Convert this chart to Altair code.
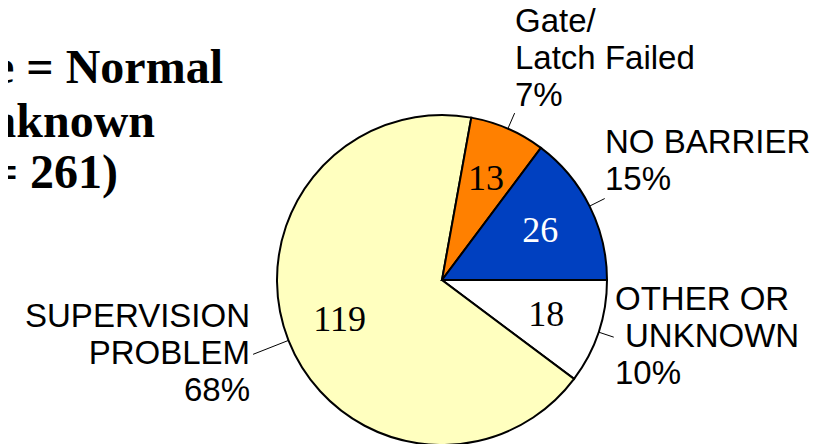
import math
import pandas as pd
import altair as alt

# ---- data ----
categories = ["OTHER OR UNKNOWN", "SUPERVISION PROBLEM", "Gate/Latch Failed", "NO BARRIER"]
counts = [18, 119, 13, 26]
percent_labels = ["10%", "68%", "7%", "15%"]
label_names = [["OTHER OR", "UNKNOWN"], ["SUPERVISION", "PROBLEM"], ["Gate/", "Latch Failed"], ["NO BARRIER"]]
title_lines = ["Latch Type = Normal", "or Unknown", "(N = 261)"]

# ---- style / layout ----
colors = ["#FFFFFF", "#FFFFBF", "#FF8000", "#0040C0"]
CX, CY, R = 434, 272, 165
W, H = 816, 436
LINE_H = 37
leader_outer = [181, 203, 182, 182]
label_pos = {  # x, y (first baseline), align
    "OTHER OR UNKNOWN": (607, 302, "left"),
    "SUPERVISION PROBLEM": (242, 319, "right"),
    "Gate/Latch Failed": (507, 24, "left"),
    "NO BARRIER": (597, 145, "left"),
}
indent = {("OTHER OR UNKNOWN", 1): 10}
title_pos = [(215, 75), (147, 129), (110, 180)]

total = sum(counts)
rows = []
line_rows = []
start = 0
for i, (c, v) in enumerate(zip(categories, counts)):
    mid = (start + v / 2) / total * 2 * math.pi + math.pi / 2
    rows.append({
        "cat": c, "count": v, "ord": i,
        "lx1": CX + R * math.sin(mid), "ly1": CY - R * math.cos(mid),
        "lx2": CX + leader_outer[i] * math.sin(mid), "ly2": CY - leader_outer[i] * math.cos(mid),
    })
    lx, ly, al = label_pos[c]
    for k, t in enumerate(label_names[i] + [percent_labels[i]]):
        line_rows.append({"cat": c, "t": t, "px": lx + indent.get((c, k), 0), "py": ly + k * LINE_H})
    start += v
df = pd.DataFrame(rows)
ldf = pd.DataFrame(line_rows)

theta_scale = alt.Scale(domain=[0, total], range=[math.pi / 2, math.pi / 2 + 2 * math.pi], nice=False, zero=True)
base = alt.Chart(df)

pie = base.mark_arc(outerRadius=R, stroke="black", strokeWidth=2).encode(
    theta=alt.Theta("count:Q", stack=True, scale=theta_scale),
    color=alt.Color("cat:N", scale=alt.Scale(domain=categories, range=colors), legend=None),
    order=alt.Order("ord:Q"),
    x=alt.value(CX), y=alt.value(CY),
)

nums = base.mark_text(radius=110, font="Liberation Serif", fontSize=36, align="center", baseline="middle").encode(
    theta=alt.Theta("count:Q", stack=True, scale=theta_scale),
    detail="cat:N",
    order=alt.Order("ord:Q"),
    text="count:Q",
    color=alt.condition("datum.cat === 'NO BARRIER'", alt.value("white"), alt.value("black")),
    x=alt.value(CX), y=alt.value(CY),
)

leaders = base.mark_rule(color="black", strokeWidth=1).encode(
    x=alt.X("lx1:Q", scale=None), y=alt.Y("ly1:Q", scale=None),
    x2="lx2:Q", y2="ly2:Q",
)

layers = [pie, nums, leaders]
for c in categories:
    al = label_pos[c][2]
    layers.append(
        alt.Chart(ldf).transform_filter(alt.datum.cat == c).mark_text(
            font="Liberation Sans", fontSize=33, align=al, baseline="alphabetic", color="black",
        ).encode(text="t:N", x=alt.X("px:Q", scale=None), y=alt.Y("py:Q", scale=None))
    )

tdf = pd.DataFrame({"t": title_lines, "i": list(range(len(title_lines)))})
for i, (tx, ty) in enumerate(title_pos):
    layers.append(
        alt.Chart(tdf).transform_filter(alt.datum.i == i).mark_text(
            font="Liberation Serif", fontSize=48, fontWeight="bold", align="right",
            baseline="alphabetic", color="black",
        ).encode(text="t:N", x=alt.value(tx), y=alt.value(ty))
    )

chart = alt.layer(*layers).properties(
    width=W, height=H, autosize=alt.AutoSizeParams(type="none"), padding=0,
).configure_view(stroke=None)

chart.save("out.html", embed_options={"renderer": "svg", "actions": False})
